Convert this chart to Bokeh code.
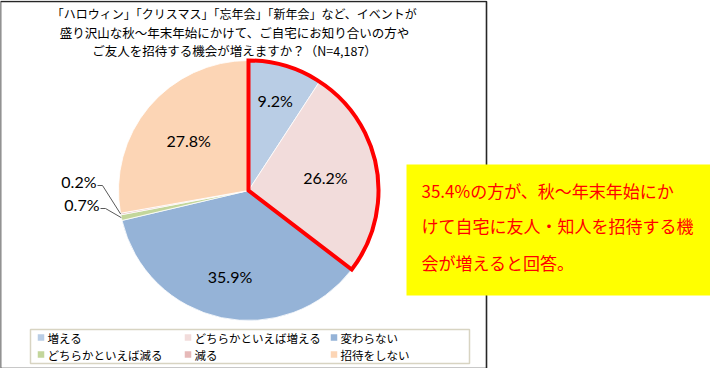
import math
from bokeh.plotting import figure
from bokeh.models import Range1d
from bokeh.core.properties import value
from bokeh.embed import file_html
from bokeh.resources import INLINE

# ---------------- data ----------------
categories = ["増える", "どちらかといえば増える", "変わらない",
              "どちらかといえば減る", "減る", "招待をしない"]
values = [9.2, 26.2, 35.9, 0.7, 0.2, 27.8]
colors = ["#B9CDE5", "#F2DCDB", "#95B3D7", "#C3D69B", "#E6B9B8", "#FCD5B5"]
title_lines = ["「ハロウィン」「クリスマス」「忘年会」「新年会」など、イベントが",
               "盛り沢山な秋～年末年始にかけて、ご自宅にお知り合いの方や",
               "ご友人を招待する機会が増えますか？（N=4,187）"]
note_lines = ["35.4%の方が、秋～年末年始にか",
              "けて自宅に友人・知人を招待する機",
              "会が増えると回答。"]
highlight_count = 2

# ---------------- layout helpers ----------------
W, H = 710, 368
def X(px):
    return px - 8
def Y(py):
    return 376 - py

JP = value("Noto Sans CJK JP")
NUM = value("Lato")

p = figure(width=W, height=H, x_range=Range1d(0, W), y_range=Range1d(0, H),
           output_backend="svg", toolbar_location=None,
           x_axis_type=None, y_axis_type=None, min_border=0)
p.grid.visible = False
p.outline_line_color = None
p.background_fill_color = "white"
p.border_fill_color = "white"

# chart frame
p.quad(left=[X(8)], right=[X(494)], top=[Y(9)], bottom=[Y(376)],
       fill_color="white", line_color="#262626", line_width=1.6)

# ---------------- pie ----------------
cx, cy, R = X(256), Y(198), 130
total = sum(values)
starts, ends, mids = [], [], []
cum = 0.0
for v in values:
    a0 = math.pi / 2 - 2 * math.pi * cum / total
    cum += v
    a1 = math.pi / 2 - 2 * math.pi * cum / total
    starts.append(a0)
    ends.append(a1)
    mids.append((a0 + a1) / 2)

p.wedge(x=[cx] * len(values), y=[cy] * len(values), radius=R,
        start_angle=starts, end_angle=ends, direction="clock",
        fill_color=colors, line_color="white", line_width=0.8)

# highlight outline
p.wedge(x=[cx], y=[cy], radius=R, start_angle=[starts[0]],
        end_angle=[ends[highlight_count - 1]], direction="clock",
        fill_color=None, line_color="#FF0000", line_width=4, line_join="miter")

# inside labels
label_rf = [0.72, 0.6, 0.68, None, None, 0.6]
lx, ly, lt = [], [], []
for v, m, f in zip(values, mids, label_rf):
    if f is None:
        continue
    lx.append(cx + R * f * math.cos(m))
    ly.append(cy + R * f * math.sin(m))
    lt.append(f"{v:.1f}%")
p.text(x=lx, y=ly, text=lt, text_font=NUM, text_font_size="16px",
       text_align="center", text_baseline="middle", text_color="#000000")

# outside labels with leader lines (small slices)
outside = {4: (X(104), Y(189)), 3: (X(107), Y(212))}
for i, (tx, ty) in outside.items():
    m = mids[i]
    ex = cx + R * math.cos(m)
    ey = cy + R * math.sin(m)
    p.line(x=[tx + 1, tx + 6, ex], y=[ty - 4, ty - 4, ey],
           line_color="#595959", line_width=1)
    p.text(x=[tx], y=[ty], text=[f"{values[i]:.1f}%"], text_font=NUM,
           text_font_size="16px", text_align="right", text_baseline="middle",
           text_color="#000000")

# ---------------- title ----------------
title_y = [Y(21), Y(40), Y(58)]
title_sizes = ["12px", "12.5px", "12.5px"]
for t, ty, fs in zip(title_lines, title_y, title_sizes):
    p.text(x=[X(242)], y=[ty], text=[t], text_font=JP,
           text_font_size=fs, text_align="center", text_baseline="middle",
           text_color="#000000")

# ---------------- legend ----------------
p.quad(left=[X(38)], right=[X(477)], top=[Y(337)], bottom=[Y(371)],
       fill_color="white", line_color="#D8D4C2", line_width=1.5)
col_x = [X(55), X(202), X(348)]
row_y = [Y(345), Y(362)]
mx, my, tx_, ty_ = [], [], [], []
for i, c in enumerate(categories):
    r, k = divmod(i, 3)
    tx_.append(col_x[k])
    ty_.append(row_y[r])
    mx.append(col_x[k] - 6.5)
    my.append(row_y[r])
p.rect(x=mx, y=my, width=6.5, height=6.5, fill_color=colors, line_color=None)
p.text(x=tx_, y=ty_, text=categories, text_font=JP, text_font_size="11.5px",
       text_align="left", text_baseline="middle", text_color="#000000")

# ---------------- note box ----------------
p.quad(left=[X(414)], right=[X(718)], top=[Y(172)], bottom=[Y(303)],
       fill_color="#FFFF00", line_color=None)
p.text(x=[X(429)] * 3, y=[Y(198), Y(233), Y(270)], text=note_lines,
       text_font=JP, text_font_size="17px", text_align="left",
       text_baseline="middle", text_color="#FF0000")

open("out.html", "w").write(file_html(p, INLINE))
